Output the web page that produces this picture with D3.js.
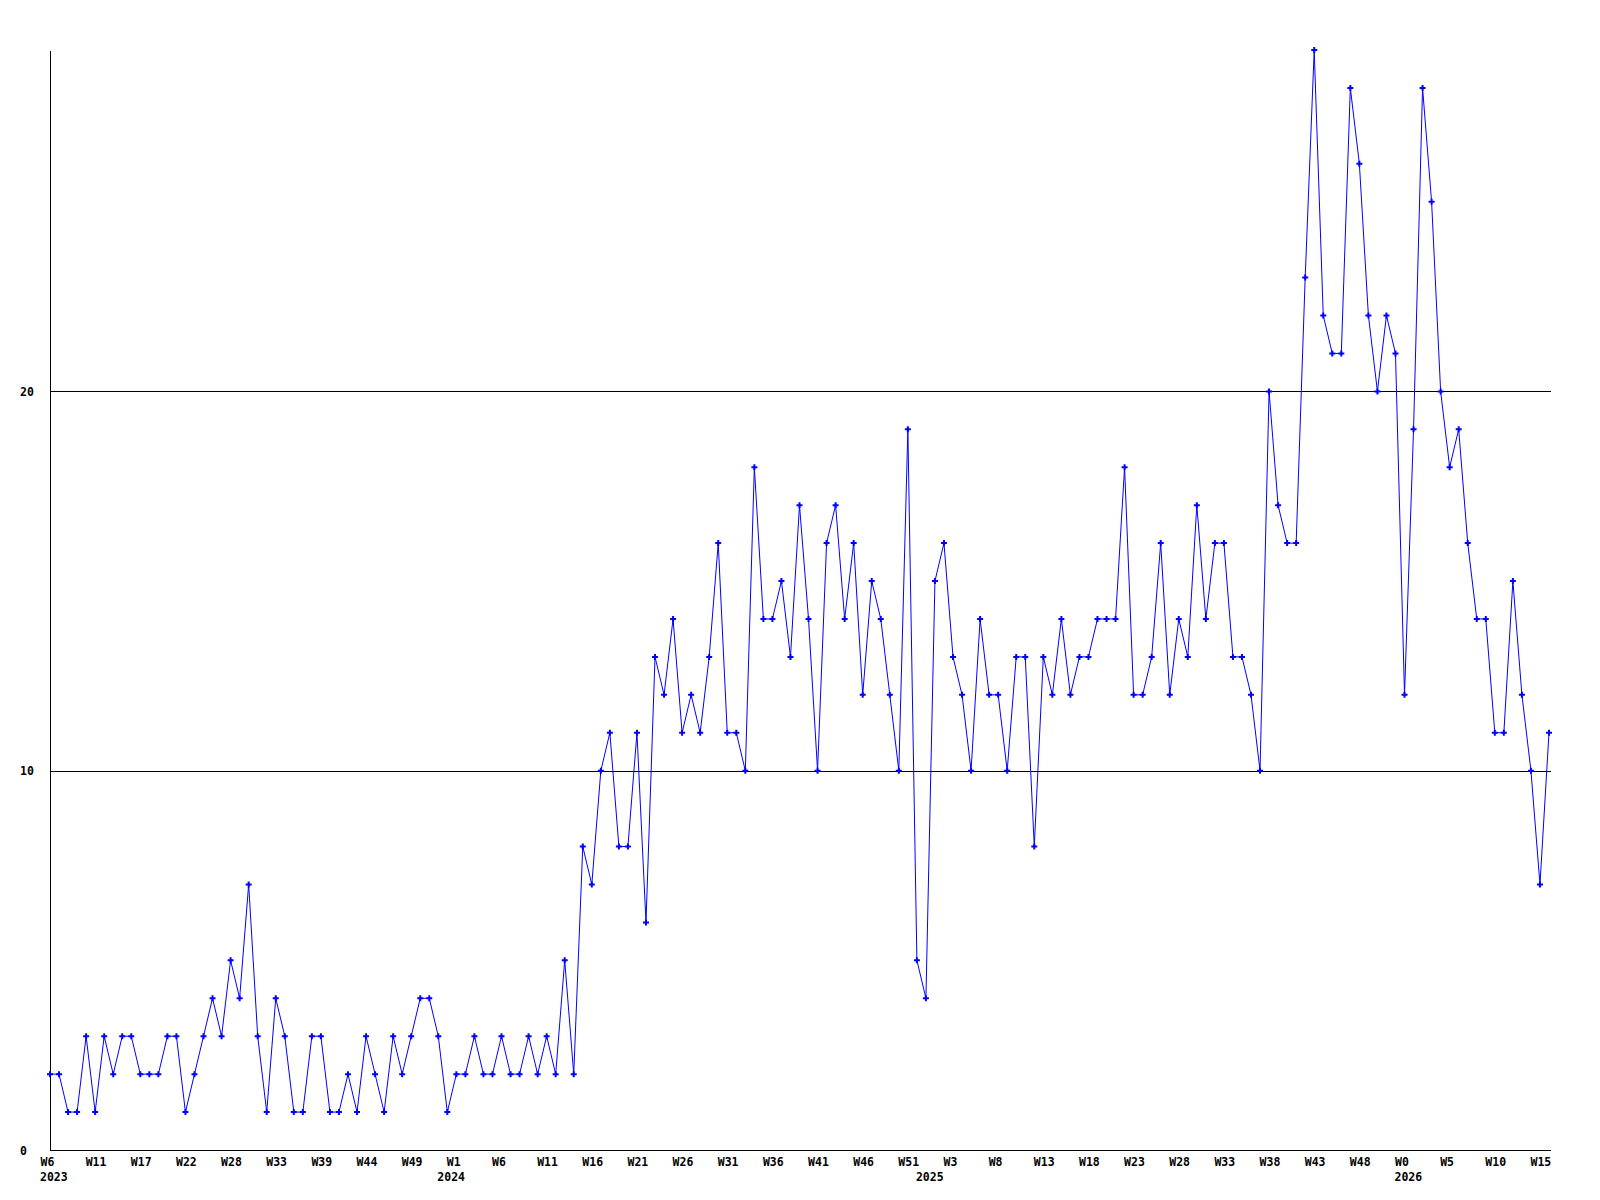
<!DOCTYPE html>
<html>
<head>
<meta charset="utf-8">
<script src="https://cdn.jsdelivr.net/npm/d3@7"></script>
<style>
  body { margin: 0; background: #fff; }
  text { font-family: "DejaVu Sans Mono", monospace; font-weight: bold; font-size: 11.5px; fill: #000; }
</style>
</head>
<body>
<div id="chart"></div>
<script>
// weekly counts, one value per week starting 2023 W6
var values = [
  2, 2, 1, 1, 3, 1, 3, 2, 3, 3, 2, 2, 2, 3, 3, 1, 2, 3, 4, 3,
  5, 4, 7, 3, 1, 4, 3, 1, 1, 3, 3, 1, 1, 2, 1, 3, 2, 1, 3, 2,
  3, 4, 4, 3, 1, 2, 2, 3, 2, 2, 3, 2, 2, 3, 2, 3, 2, 5, 2, 8,
  7, 10, 11, 8, 8, 11, 6, 13, 12, 14, 11, 12, 11, 13, 16, 11, 11, 10, 18, 14,
  14, 15, 13, 17, 14, 10, 16, 17, 14, 16, 12, 15, 14, 12, 10, 19, 5, 4, 15, 16,
  13, 12, 10, 14, 12, 12, 10, 13, 13, 8, 13, 12, 14, 12, 13, 13, 14, 14, 14, 18,
  12, 12, 13, 16, 12, 14, 13, 17, 14, 16, 16, 13, 13, 12, 10, 20, 17, 16, 16, 23,
  29, 22, 21, 21, 28, 26, 22, 20, 22, 21, 12, 19, 28, 25, 20, 18, 19, 16, 14, 14,
  11, 11, 15, 12, 10, 7, 11
];

// week labels, one every 5 points
var weekLabels = ["W6", "W11", "W17", "W22", "W28", "W33", "W39", "W44", "W49",
  "W1", "W6", "W11", "W16", "W21", "W26", "W31", "W36", "W41", "W46", "W51",
  "W3", "W8", "W13", "W18", "W23", "W28", "W33", "W38", "W43", "W48",
  "W0", "W5", "W10", "W15"];
var weekStep = 5;

// year labels and the point where each year starts
var years = ["2023", "2024", "2025", "2026"];
var yearIndex = [0, 44, 97, 150];

var yTicks = [0, 10, 20];

var margin = {top: 50, right: 49, bottom: 50, left: 50},
    width = 1600 - margin.left - margin.right,
    height = 1200 - margin.top - margin.bottom;

var x = d3.scaleLinear()
    .domain([0, values.length - 1])
    .range([0, width - 2]);

var y = d3.scaleLinear()
    .domain([0, 29])
    .range([height, 0]);

var svg = d3.select("#chart").append("svg")
    .attr("width", 1600)
    .attr("height", 1200)
  .append("g")
    .attr("transform", "translate(" + margin.left + "," + margin.top + ")");

// y axis with gridlines
var yAxis = svg.append("g")
    .call(d3.axisLeft(y).tickValues(yTicks).tickSize(-width).tickSizeOuter(0).tickFormat(d3.format("d")));
yAxis.select(".domain").attr("stroke", "#000").attr("shape-rendering", "crispEdges");
yAxis.selectAll(".tick line").attr("stroke", "#000").attr("shape-rendering", "crispEdges");
yAxis.selectAll(".tick text")
    .attr("x", -30)
    .attr("dy", "0.35em")
    .style("text-anchor", "start");

// x axis
var xAxis = svg.append("g")
    .attr("transform", "translate(0," + height + ")")
    .call(d3.axisBottom(x)
      .tickValues(weekLabels.map(function(d, i) { return i * weekStep; }))
      .tickSize(0)
      .tickSizeOuter(0)
      .tickFormat(function(d) { return weekLabels[d / weekStep]; }));
xAxis.select(".domain")
    .attr("stroke", "#000")
    .attr("shape-rendering", "crispEdges")
    .attr("d", "M0,0.5H" + width);
xAxis.selectAll(".tick text")
    .attr("x", -10)
    .attr("y", 16)
    .attr("dy", 0)
    .style("text-anchor", "start");

// year labels
svg.selectAll(".year")
    .data(years)
    .enter().append("text")
    .attr("class", "year")
    .attr("x", function(d, i) { return x(yearIndex[i]) - 10; })
    .attr("y", height + 31)
    .text(function(d) { return d; });

// the line
var line = d3.line()
    .x(function(d, i) { return x(i); })
    .y(function(d) { return y(d); });

svg.append("path")
    .datum(values)
    .attr("fill", "none")
    .attr("stroke", "#0000ff")
    .attr("stroke-width", 1)
    .attr("d", line);

// point markers
svg.selectAll(".dot")
    .data(values)
    .enter().append("path")
    .attr("class", "dot")
    .attr("fill", "#0000ff")
    .attr("d", d3.symbol().type(d3.symbolCross).size(20))
    .attr("transform", function(d, i) { return "translate(" + x(i) + "," + y(d) + ")"; });
</script>
</body>
</html>
